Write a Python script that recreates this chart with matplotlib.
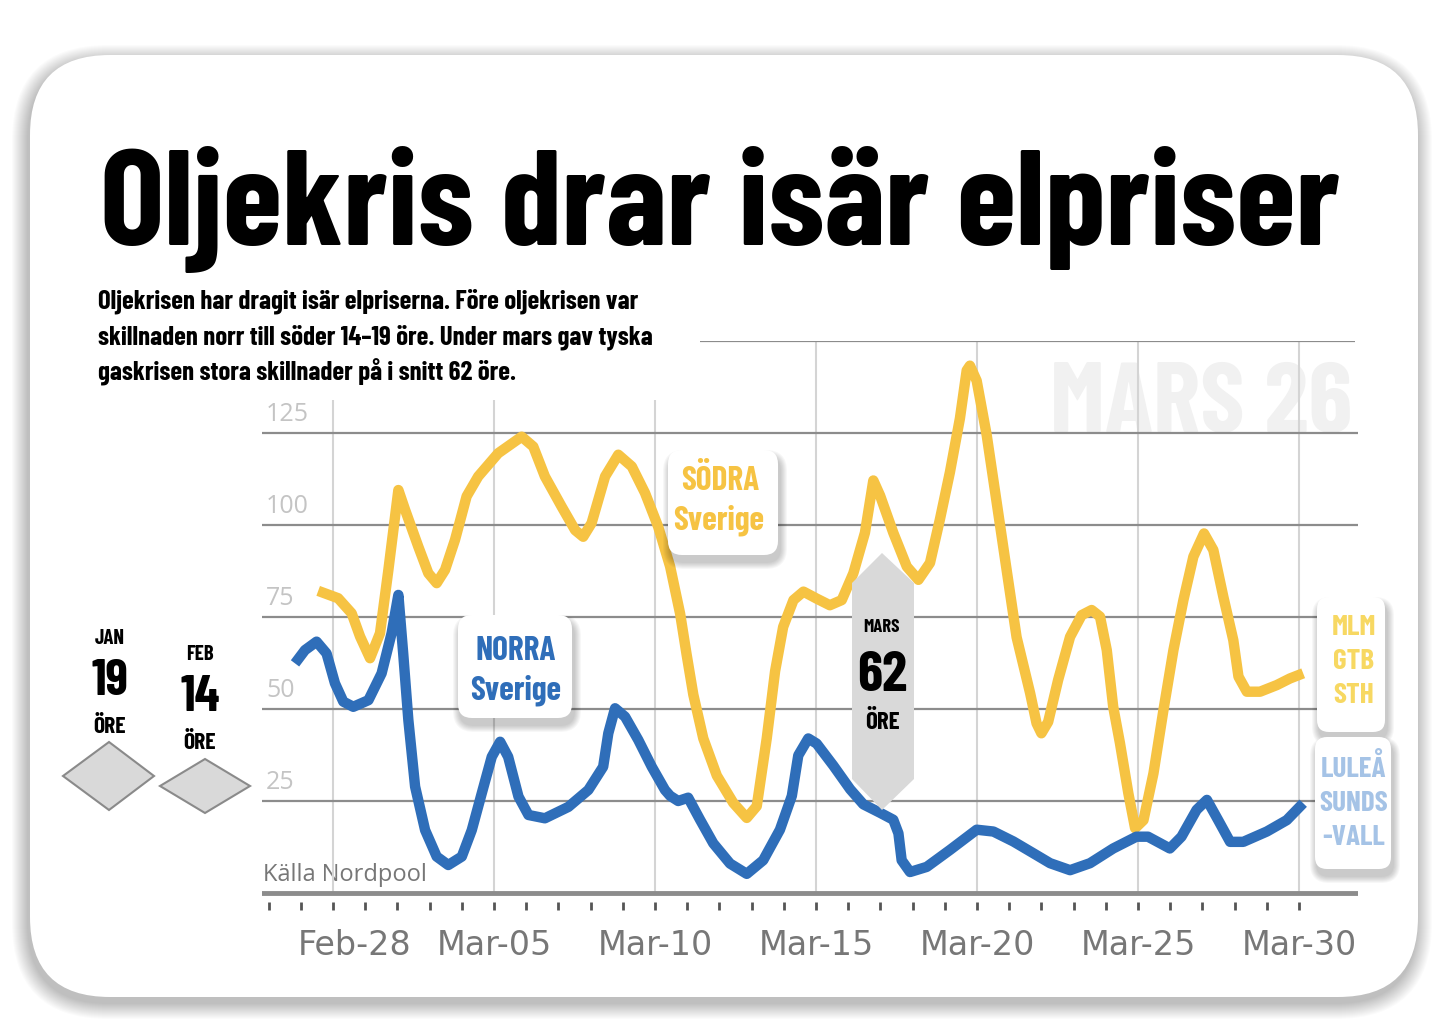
import matplotlib
matplotlib.use('Agg')
import matplotlib.pyplot as plt
from matplotlib import font_manager
from matplotlib.patches import FancyBboxPatch, Polygon
from matplotlib.transforms import ScaledTranslation
import numpy as np

W, H = 1452, 1032

# ---- data: day offset from Feb-28, price in öre/kWh ----
south_days = [-0.46, 0.16, 0.58, 0.84, 1.15, 1.46, 1.72, 2.03, 2.24, 2.65, 2.96, 3.22,
              3.48, 3.79, 4.15, 4.51, 5.13, 5.86, 6.22, 6.58, 7.10, 7.52, 7.77, 8.03,
              8.45, 8.86, 9.28, 9.69, 10.10, 10.47, 10.78, 10.98, 11.19, 11.50, 11.92,
              12.43, 12.85, 13.16, 13.47, 13.73, 13.98, 14.30, 14.61, 15.02, 15.43,
              15.80, 16.16, 16.52, 16.78, 16.99, 17.40, 17.82, 18.18, 18.54, 18.85,
              19.16, 19.47, 19.68, 19.78, 19.99, 20.30, 20.61, 20.92, 21.23, 21.65,
              21.85, 22.00, 22.21, 22.52, 22.89, 23.25, 23.56, 23.82, 24.03, 24.23,
              24.44, 24.70, 24.91, 25.17, 25.48, 25.79, 26.10, 26.41, 26.72, 27.05,
              27.34, 27.65, 27.96, 28.12, 28.38, 28.79, 29.31, 29.72, 30.13]
south_vals = [82.1, 80.1, 76.0, 69.7, 63.8, 70.6, 87.8, 109.5, 104.1, 94.1, 86.9, 84.2,
              87.8, 96.0, 107.8, 113.2, 119.5, 124.0, 121.3, 113.2, 105.0, 98.6, 96.8, 100.5,
              113.2, 119.1, 115.9, 108.7, 99.5, 88.7, 75.9, 64.9, 53.9, 42.0, 31.9,
              24.5, 20.4, 23.6, 42.0, 60.3, 72.3, 79.6, 81.9, 80.0, 78.2,
              79.6, 86.9, 97.9, 112.1, 108.0, 97.9, 88.7, 85.1, 89.7, 101.6,
              114.4, 129.0, 142.0, 143.3, 139.2, 124.5, 106.2, 87.8, 69.5, 54.3,
              46.1, 43.4, 46.5, 57.9, 69.6, 75.5, 76.9, 75.1, 66.0, 50.6,
              40.7, 27.1, 17.6, 19.8, 32.5, 49.7, 66.0, 79.6, 91.4, 97.7,
              93.2, 80.5, 68.7, 58.8, 54.7, 54.7, 56.5, 58.3, 59.7]

north_days = [-1.18, -0.87, -0.51, -0.20, 0.06, 0.32, 0.63, 1.10, 1.51, 1.82, 2.03, 2.18,
              2.34, 2.55, 2.86, 3.22, 3.58, 4.00, 4.31, 4.62, 4.93, 5.19, 5.44, 5.76,
              6.07, 6.58, 7.31, 7.93, 8.39, 8.55, 8.76, 9.07, 9.48, 9.90, 10.31, 10.47,
              10.72, 11.03, 11.40, 11.81, 12.33, 12.85, 13.36, 13.88, 14.25, 14.45,
              14.76, 15.02, 15.54, 16.06, 16.47, 16.99, 17.40, 17.56, 17.66, 17.92,
              18.44, 19.16, 19.99, 20.51, 21.13, 21.75, 22.27, 22.89, 23.51, 24.23,
              24.95, 25.31, 25.99, 26.35, 26.82, 27.14, 27.49, 27.86, 28.27, 29.00,
              29.62, 30.13]
north_vals = [62.4, 66.0, 68.3, 65.1, 57.0, 52.0, 50.6, 52.4, 59.7, 70.6, 81.0, 65.1,
              47.0, 28.9, 17.1, 9.9, 7.6, 9.9, 17.1, 27.1, 37.0, 41.1, 37.0, 26.2,
              21.2, 20.3, 23.4, 28.0, 34.3, 43.4, 50.2, 47.9, 41.6, 34.3, 28.0, 26.4,
              25.0, 25.9, 19.9, 13.5, 8.0, 5.2, 8.9, 17.2, 26.4, 37.4,
              42.0, 40.6, 34.6, 28.2, 24.1, 21.8, 19.9, 16.2, 8.9, 5.7,
              7.1, 11.7, 17.2, 16.7, 14.0, 10.8, 8.1, 6.2, 8.1, 12.1,
              15.3, 15.3, 12.1, 15.3, 22.6, 25.3, 19.8, 13.9, 13.9, 16.7,
              19.8, 24.4]

x_ticks = [0, 5, 10, 15, 20, 25, 30]
x_labels = ['Feb-28', 'Mar-05', 'Mar-10', 'Mar-15', 'Mar-20', 'Mar-25', 'Mar-30']
y_ticks = [25, 50, 75, 100, 125]

title = 'Oljekris drar isär elpriser'
subtitle = ['Oljekrisen har dragit isär elpriserna. Före oljekrisen var',
            'skillnaden norr till söder 14–19 öre. Under mars gav tyska',
            'gaskrisen stora skillnader på i snitt 62 öre.']

YEL = '#f6c343'
BLUE = '#2f6eb9'
YEL_LIGHT = '#f7d862'
BLUE_LIGHT = '#a5c3e6'

available = {f.name for f in font_manager.fontManager.ttflist}
COND = next((n for n in ['Barlow Condensed', 'Roboto Condensed', 'Liberation Sans Narrow']
             if n in available), 'DejaVu Sans')
CAPR = 0.70

fig = plt.figure(figsize=(W / 100, H / 100), dpi=100)
bg = fig.add_axes([0, 0, 1, 1])
bg.set_xlim(0, W)
bg.set_ylim(H, 0)
bg.axis('off')

# card with soft shadow
for i in range(16, 0, -1):
    bg.add_patch(FancyBboxPatch((30 - i - 2, 55 - i + 6), 1388 + 2 * i, 942 + 2 * i,
                                boxstyle=f'round,pad=0,rounding_size={80 + i}',
                                fc='black', ec='none', alpha=0.016))
bg.add_patch(FancyBboxPatch((30, 55), 1388, 942, boxstyle='round,pad=0,rounding_size=80',
                            fc='white', ec='none'))


def ctext(axx, x, yc, s, size, color='black', family=COND, weight='bold', ha='center'):
    cap = size * 100 / 72 * CAPR
    return axx.text(x, yc + cap / 2, s, fontsize=size, color=color, family=family,
                    weight=weight, ha=ha, va='baseline')


def fit_width(t, target):
    fig.canvas.draw()
    bb = t.get_window_extent()
    t.set_fontsize(t.get_fontsize() * target / bb.width)


t = bg.text(100, 245, title, fontsize=110, family=COND, weight='bold', va='baseline')
fit_width(t, 1240)

subs = [bg.text(98, 308 + 36 * i, line, fontsize=18, family=COND, weight='bold', va='baseline')
        for i, line in enumerate(subtitle)]
fit_width(subs[1], 555)
for s in subs:
    s.set_fontsize(subs[1].get_fontsize())

wm = bg.text(1050, 432, 'MARS 26', fontsize=80, family=COND, weight='bold', color='#f1f1f1',
             va='baseline')
fit_width(wm, 302)

# ---- chart ----
ybot_px = 893 + 2.5 * 92 / 25
ax = fig.add_axes([262 / W, (H - ybot_px) / H, (1358 - 262) / W, (ybot_px - 341) / H])
ax.patch.set_alpha(0)
ax.set_xlim((262 - 333) / 32.2, (1358 - 333) / 32.2)
ax.set_ylim(-2.5, 150)
for sp in ax.spines.values():
    sp.set_visible(False)

for v in y_ticks:
    ax.axhline(v, color='#8c8c8c', lw=1.6, zorder=1)
    ax.annotate(str(v), xy=(0, v), xycoords=('axes fraction', 'data'), xytext=(3, 8.5),
                textcoords='offset points', va='baseline', fontsize=18, color='#c4c4c4',
                family='Open Sans')
ax.hlines(150, (700 - 333) / 32.2, (1355 - 333) / 32.2, color='#8c8c8c', lw=1.6, zorder=1)
for d in x_ticks:
    ax.vlines(d, 0, 134 if d <= 10 else 150, color='#d4d4d4', lw=1.5, zorder=0.5)
ax.axhline(0, color='#8c8c8c', lw=3.5, zorder=1)

ax.plot(south_days, south_vals, color=YEL, lw=7.5, solid_joinstyle='round',
        solid_capstyle='butt', zorder=3)
ax.plot(north_days, north_vals, color=BLUE, lw=7.5, solid_joinstyle='round',
        solid_capstyle='butt', zorder=4)

days = np.arange(-2, 31)
ax.set_xticks(days)
ax.set_xticklabels([x_labels[x_ticks.index(d)] if d in x_ticks else '' for d in days])
ax.tick_params(axis='x', length=6, width=2, color='#555555', pad=13, labelsize=24,
               labelcolor='#777777')
for lab in ax.get_xticklabels():
    lab.set_family('DejaVu Sans')
ax.get_xticklabels()[2].set_transform(ax.get_xticklabels()[2].get_transform()
                                      + ScaledTranslation(22 / 100, 0, fig.dpi_scale_trans))
ax.set_yticks([])

bg.text(263, 881, 'Källa Nordpool', fontsize=17, color='#777777', family='Open Sans',
        va='baseline')

# ---- overlay annotations ----
ov = fig.add_axes([0, 0, 1, 1])
ov.set_xlim(0, W)
ov.set_ylim(H, 0)
ov.axis('off')


def box(x, y, w, h, r=14):
    for i in range(7, 0, -1):
        ov.add_patch(FancyBboxPatch((x - i + 2, y - i + 7), w + 2 * i, h + 2 * i,
                                    boxstyle=f'round,pad=0,rounding_size={r + i}',
                                    fc='black', ec='none', alpha=0.03))
    ov.add_patch(FancyBboxPatch((x, y), w, h, boxstyle=f'round,pad=0,rounding_size={r}',
                                fc='white', ec='none'))


box(668, 450, 110, 105)
ctext(ov, 720, 478, 'SÖDRA', 24, YEL)
ctext(ov, 719, 518, 'Sverige', 24, YEL)

box(458, 615, 114, 103)
ctext(ov, 516, 648, 'NORRA', 24, BLUE)
ctext(ov, 516, 688, 'Sverige', 24, BLUE)

box(1317, 597, 68, 135, r=12)
for i, s in enumerate(['MLM', 'GTB', 'STH']):
    ctext(ov, 1354, 625 + 34 * i, s, 21, YEL_LIGHT)

box(1315, 737, 76, 132, r=12)
for i, s in enumerate(['LULEÅ', 'SUNDS', '-VALL']):
    ctext(ov, 1354, 767 + 34 * i, s, 21, BLUE_LIGHT)

ov.add_patch(Polygon([(882, 553), (914, 583), (914, 779), (882, 810), (852, 779), (852, 583)],
                     closed=True, fc='#d9d9d9', ec='none'))
ctext(ov, 882, 625, 'MARS', 13.5, 'black')
ctext(ov, 882, 671, '62', 41, 'black')
ctext(ov, 882, 720, 'ÖRE', 18, 'black')

# left: earlier months
ctext(ov, 110, 637, 'JAN', 15)
ctext(ov, 110, 677, '19', 37)
ctext(ov, 110, 725, 'ÖRE', 17)
ov.add_patch(Polygon([(63, 776), (109, 742), (154, 776), (109, 810)], closed=True,
                     fc='#d9d9d9', ec='#8a8a8a', lw=1.5))
ctext(ov, 200, 653, 'FEB', 15)
ctext(ov, 200, 693, '14', 37)
ctext(ov, 200, 741, 'ÖRE', 17)
ov.add_patch(Polygon([(160, 786), (205, 759), (250, 786), (205, 813)], closed=True,
                     fc='#d9d9d9', ec='#8a8a8a', lw=1.5))

fig.savefig('out.png', dpi=100)
